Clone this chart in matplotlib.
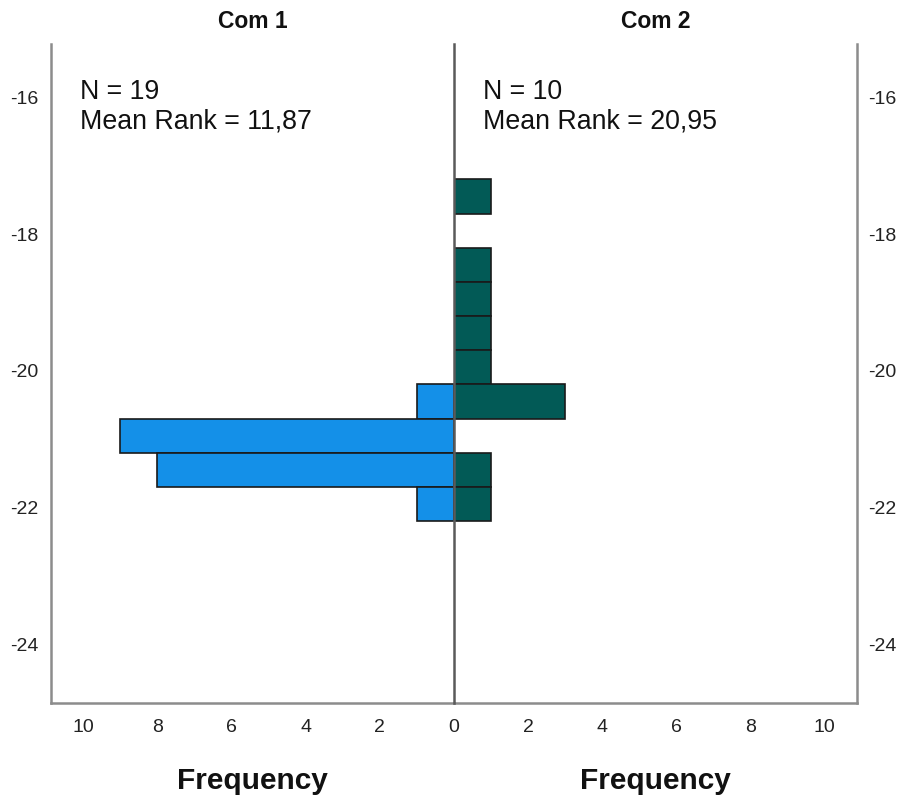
import numpy as np
import matplotlib.pyplot as plt

plt.rcParams["font.family"] = ["Liberation Sans", "DejaVu Sans"]
plt.rcParams["axes.unicode_minus"] = False

# Histogram bins (value centres, bin width 0.5) and counts per group
bin_centers = [-17.45, -17.95, -18.45, -18.95, -19.45, -19.95, -20.45, -20.95, -21.45, -21.95]
com1_counts = [0, 0, 0, 0, 0, 0, 1, 9, 8, 1]
com2_counts = [1, 0, 1, 1, 1, 1, 3, 0, 1, 1]
bin_width = 0.5

groups = ["Com 1", "Com 2"]
n_values = [19, 10]
mean_ranks = ["11,87", "20,95"]
colors = ["#1490e8", "#025a56"]
x_ticks = [0, 2, 4, 6, 8, 10]
y_ticks = [-16, -18, -20, -22, -24]

W, H = 897, 796
fig = plt.figure(figsize=(W / 100, H / 100), dpi=100)

left_px, mid_px, right_px = 50.7, 454, 856.7
top_px, bottom_px = 44, 703.3
ax_h = (bottom_px - top_px) / H
ax_b = (H - bottom_px) / H

ax1 = fig.add_axes([left_px / W, ax_b, (mid_px - left_px) / W, ax_h])
ax2 = fig.add_axes([mid_px / W, ax_b, (right_px - mid_px) / W, ax_h])

spine_col = "#8c8c8c"
for ax, counts, col in [(ax1, com1_counts, colors[0]), (ax2, com2_counts, colors[1])]:
    c = np.array(counts)
    y = np.array(bin_centers)
    keep = c > 0
    ax.barh(y[keep], c[keep], height=bin_width, color=col,
            edgecolor="#1a1a1a", linewidth=1.2, zorder=3)
    ax.set_ylim(-24.866, -15.217)
    ax.set_xticks(x_ticks)
    ax.set_yticks(y_ticks)
    ax.tick_params(length=0, labelsize=14, colors="#222222")
    ax.tick_params(axis="x", pad=11)
    ax.spines["top"].set_visible(False)
    for s in ax.spines.values():
        s.set_color(spine_col)
        s.set_linewidth(1.8)

ax1.set_xlim(10.87, 0)
ax2.set_xlim(0, 10.87)

# centre line is the left spine of the right panel, drawn above the bars
ax1.spines["right"].set_visible(False)
ax2.spines["left"].set_color("#5a5a5a")
ax2.spines["left"].set_linewidth(1.8)
ax2.spines["left"].set_zorder(5)
ax2.patch.set_visible(False)
ax1.tick_params(axis="y", pad=9)
ax2.tick_params(axis="y", left=False, right=False, labelleft=False,
                labelright=True, pad=8)
ax2.set_xticks(x_ticks[1:])

# group titles, summary text and axis labels
centers = [(left_px + mid_px) / 2, (mid_px + right_px) / 2]
text_x = [left_px + 29, mid_px + 29]
for i in range(2):
    fig.text(centers[i] / W, 1 - 22 / H, groups[i], ha="center", va="center",
             fontsize=16.5, fontweight="bold", color="#111111")
    fig.text(text_x[i] / W, 1 - 99.3 / H, f"N = {n_values[i]}",
             ha="left", va="baseline", fontsize=19.3, color="#111111")
    fig.text(text_x[i] / W, 1 - 128.3 / H, f"Mean Rank = {mean_ranks[i]}",
             ha="left", va="baseline", fontsize=19.3, color="#111111")
    fig.text(centers[i] / W, 1 - 789 / H, "Frequency", ha="center",
             va="baseline", fontsize=21.5, fontweight="bold", color="#111111")

fig.savefig("out.png", dpi=100)
